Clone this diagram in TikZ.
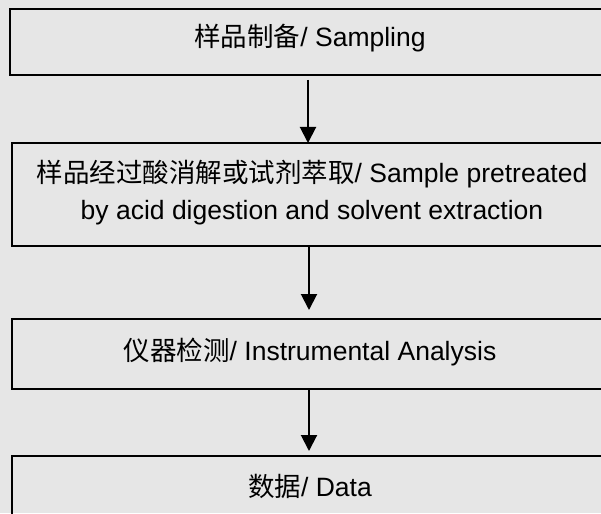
\documentclass[tikz,border=0pt]{standalone}
\usepackage{fontspec}
\setmainfont{Liberation Sans}
\newfontfamily\cjk{Noto Sans CJK SC}
\usetikzlibrary{arrows.meta}
\definecolor{bgc}{RGB}{230,230,230}
\begin{document}
\begin{tikzpicture}[x=1pt,y=-1pt,
  box/.style={draw=black, line width=1.7pt, minimum width=600pt, inner sep=0pt, outer sep=0pt, anchor=north west, rectangle},
  lbl/.style={anchor=base, inner sep=0pt, font=\fontsize{26.5}{37}\selectfont},
  arr/.style={draw=black, line width=2pt, -{Triangle[width=16pt,length=16pt]}}]
\fill[bgc] (0,0) rectangle (601,513);
\clip (0,0) rectangle (601,513);
% boxes
\node[box, minimum height=66pt, minimum width=604pt] (b1) at (10,9) {};
\node[box, minimum height=103pt] (b2) at (12,143) {};
\node[box, minimum height=70pt] (b3) at (12,319) {};
\node[box, minimum height=80pt] (b4) at (12,456) {};
% texts
\node[lbl] (t1) at (310,47) {{\cjk 样品制备}/ Sampling};
\node[lbl] (t2a) at (312,182) {{\cjk 样品经过酸消解或试剂萃取}/ Sample pretreated};
\node[lbl] (t2b) at (312,219) {by acid digestion and solvent extraction};
\node[lbl] (t3) at (310,360) {{\cjk 仪器检测}/ Instrumental Analysis};
\node[lbl] (t4) at (310,496) {{\cjk 数据}/ Data};
% arrows
\draw[arr] ([xshift=-4pt,yshift=-5pt]b1.south) -- ([xshift=-4pt]b2.north);
\draw[arr, shorten >=9pt] ([xshift=-3pt]b2.south) -- ([xshift=-3pt]b3.north);
\draw[arr, shorten >=5pt] ([xshift=-3pt]b3.south) -- ([xshift=-3pt]b4.north);
\end{tikzpicture}
\end{document}
